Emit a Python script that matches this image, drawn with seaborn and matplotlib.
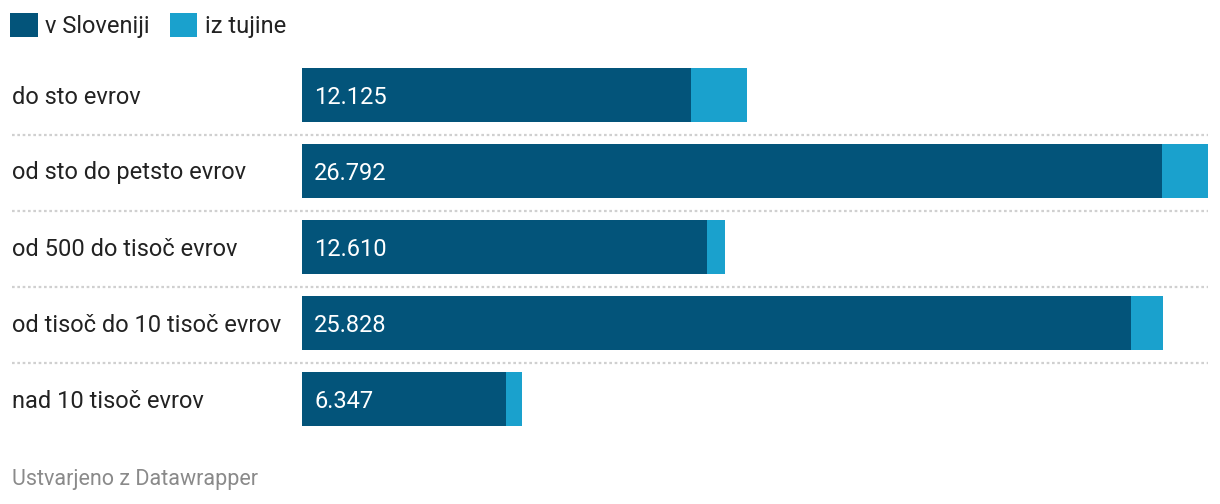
import matplotlib
matplotlib.use("Agg")
import matplotlib.pyplot as plt
import matplotlib.transforms as mtransforms
from matplotlib.patches import Patch
import seaborn as sns
import pandas as pd

categories = ["do sto evrov", "od sto do petsto evrov", "od 500 do tisoč evrov",
              "od tisoč do 10 tisoč evrov", "nad 10 tisoč evrov"]
v_sloveniji = [12125, 26792, 12610, 25828, 6347]
iz_tujine = [1745, 1433, 561, 997, 498]
value_labels = ["12.125", "26.792", "12.610", "25.828", "6.347"]
series_names = ["v Sloveniji", "iz tujine"]

DARK = "#03547a"
LIGHT = "#1aa1cd"
TEXT = "#222222"

sns.set_theme(style="white")
plt.rcParams["font.family"] = ["Roboto", "DejaVu Sans"]

W, H = 1220, 504
fig = plt.figure(figsize=(W / 100, H / 100), dpi=100)
ax_left, ax_right = 302 / W, 1208 / W
ax_top_px, ax_bot_px = 57, 437
ax = fig.add_axes([ax_left, 1 - ax_bot_px / H, ax_right - ax_left, (ax_bot_px - ax_top_px) / H])

df = pd.DataFrame({
    "cat": categories,
    "slo": v_sloveniji,
    "total": [a + b for a, b in zip(v_sloveniji, iz_tujine)],
})

sns.barplot(data=df, y="cat", x="total", color=LIGHT, orient="h", width=54 / 76,
            saturation=1, ax=ax, order=categories)
sns.barplot(data=df, y="cat", x="slo", color=DARK, orient="h", width=54 / 76,
            saturation=1, ax=ax, order=categories)
for p in ax.patches:
    p.set_linewidth(0)

ax.set_xlim(0, max(df["total"]))
ax.set_ylim(len(categories) - 0.5, -0.5)
ax.set_axis_off()

# separators
for i in range(len(categories) - 1):
    ax.axhline(i + 0.5 + 2 / 76, xmin=(12 - 302) / 906, xmax=1.0, color="#d0d0d0",
               linewidth=1.6, linestyle=(0, (1.2, 1.2)), clip_on=False, zorder=0)

trans = mtransforms.blended_transform_factory(fig.transFigure, ax.transData)
dy = 2 / 76
for i, (cat, lab) in enumerate(zip(categories, value_labels)):
    ax.text(12 / W, i + dy, cat, transform=trans, ha="left", va="center",
            fontsize=17, color=TEXT)
    ax.text(314 / W, i + dy, lab, transform=trans, ha="left", va="center",
            fontsize=17, color="white")

handles = [Patch(facecolor=DARK, edgecolor="none"), Patch(facecolor=LIGHT, edgecolor="none")]
fig.legend(handles, series_names, loc="upper left", bbox_to_anchor=(10 / W, 1 - 13 / H),
           ncol=2, frameon=False, fontsize=17, handlelength=1.18, handleheight=1.18,
           handletextpad=0.3, columnspacing=0.85, borderpad=0, borderaxespad=0,
           labelcolor=TEXT)

fig.text(12 / W, 1 - 480 / H, "Ustvarjeno z Datawrapper", ha="left", va="center",
         fontsize=15.5, color="#8a8a8a")

fig.savefig("out.png", dpi=100)
